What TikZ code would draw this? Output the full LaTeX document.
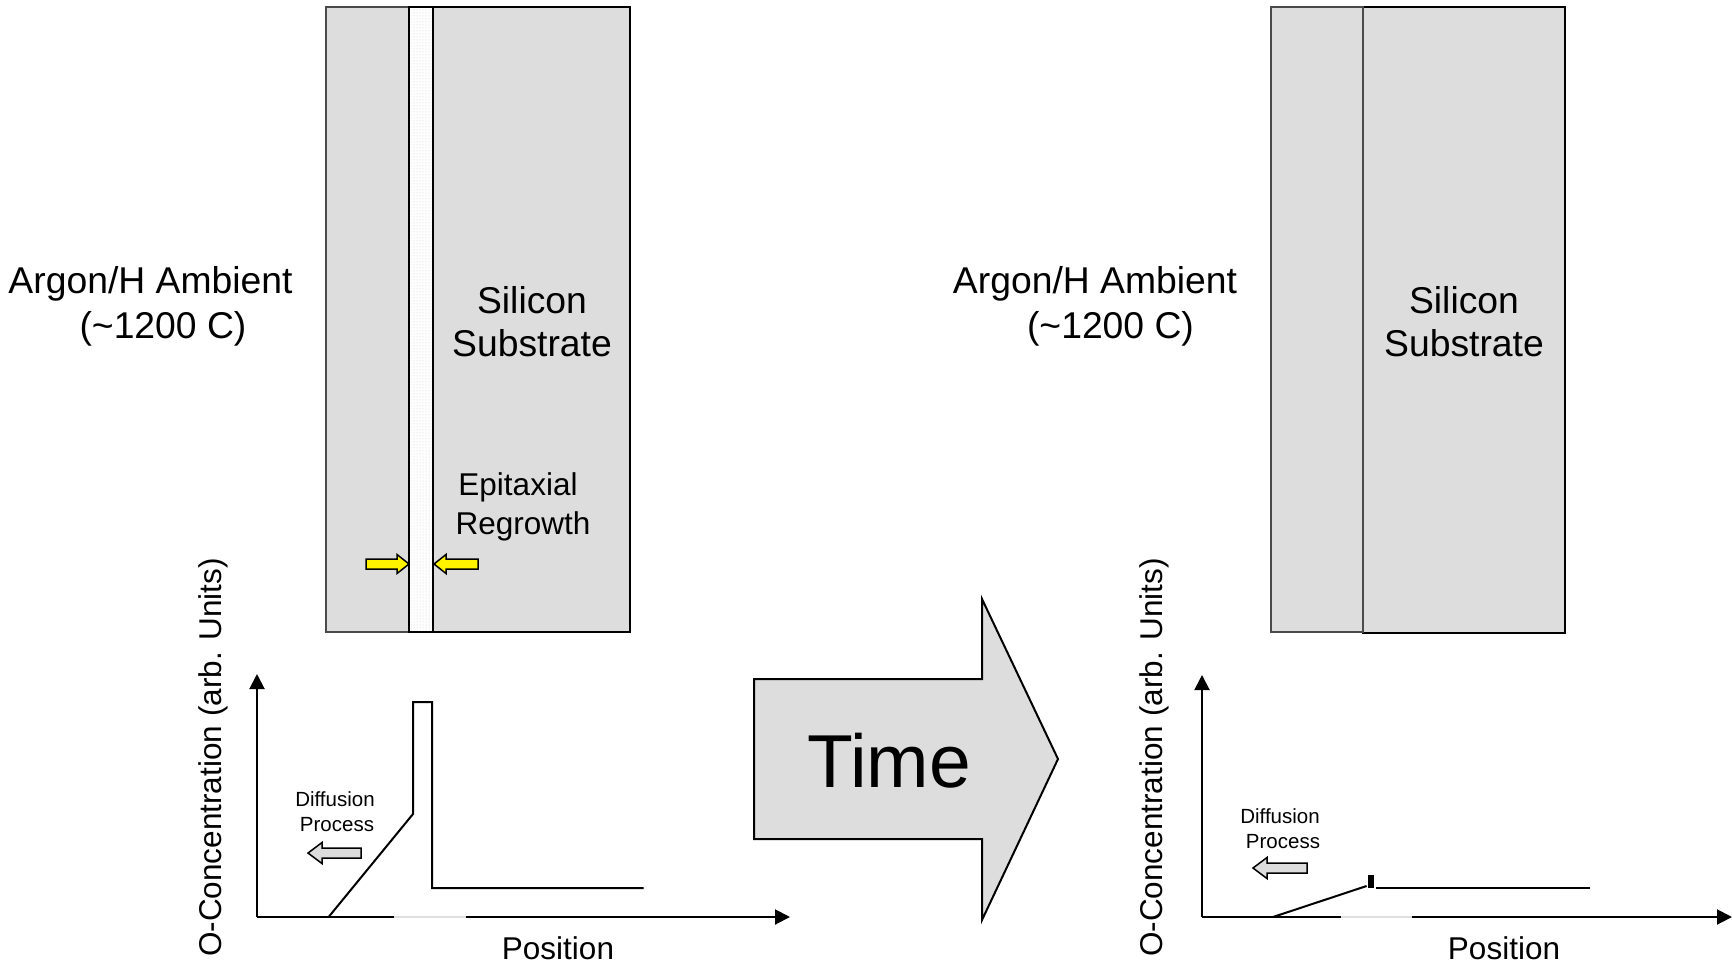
\documentclass[tikz,border=0pt]{standalone}
\usepackage{fontspec}
\setmainfont{Liberation Sans}
\usetikzlibrary{arrows.meta,patterns}
\definecolor{si}{HTML}{DDDDDD}
\definecolor{edgegray}{HTML}{4A4A4A}
\begin{document}
\begin{tikzpicture}[x=1pt,y=-1pt,
  bigtxt/.style={font=\fontsize{37.3}{46}\selectfont, inner sep=0pt, anchor=base},
  midtxt/.style={font=\fontsize{31.5}{38}\selectfont, inner sep=0pt, anchor=base},
  smalltxt/.style={font=\fontsize{20.5}{25}\selectfont, inner sep=0pt, anchor=base},
  timetxt/.style={font=\fontsize{75}{80}\selectfont, inner sep=0pt, anchor=base},
  axisline/.style={line width=2pt, -{Triangle[length=15pt,width=15pt]}},
  profile/.style={line width=2pt, line join=miter},
  gapline/.style={line width=2pt, draw=gray!25},
  layergray/.style={fill=si, draw=edgegray, line width=1.5pt},
  layerblack/.style={fill=si, draw=black, line width=2pt},
  striplayer/.style={fill=white, draw=black, line width=2pt},
  yellowarrow/.style={fill=yellow, draw=black, line width=1.5pt, line join=miter},
  grayarrow/.style={fill=si, draw=black, line width=1.5pt, line join=miter},
  timearrow/.style={fill=si, draw=black, line width=2pt, line join=miter}
]
\useasboundingbox (0,0) rectangle (1732,964);

% ===== Left panel: layers =====
\draw[layergray] (326,7) rectangle (409,632);
\draw[layerblack] (433,7) rectangle (630,632);
\draw[striplayer] (409,7) rectangle (433,632);
\fill[pattern=dots, pattern color=gray!40] (411,9) rectangle (431,630);
\draw[striplayer, fill=none] (409,7) rectangle (433,632);

% yellow arrows
\draw[yellowarrow] (366,559) -- (397,559) -- (397,554.5) -- (409,564) -- (397,573.5) -- (397,569) -- (366,569) -- cycle;
\draw[yellowarrow] (478,559) -- (446,559) -- (446,554.5) -- (434,564) -- (446,573.5) -- (446,569) -- (478,569) -- cycle;

% texts left
\node[bigtxt] (amb1a) at (150.5,293) {Argon/H Ambient};
\node[bigtxt] (amb1b) at (163,338.5) {(\textasciitilde1200 C)};
\node[bigtxt] (si1a) at (532,313) {Silicon};
\node[bigtxt] (si1b) at (532,356.5) {Substrate};
\node[midtxt] (epi1) at (518,495) {Epitaxial};
\node[midtxt] (epi2) at (523,534.5) {Regrowth};

% ===== Left graph =====
\coordinate (o1) at (257,917);
\coordinate (y1) at (257,674);
\coordinate (x1) at (790,917);
\draw[axisline] (o1) -- (y1);
\draw[axisline] (o1) -- (x1);
\coordinate (g1a) at (394,917);
\coordinate (g1b) at (466,917);
\draw[gapline] (g1a) -- (g1b);
\coordinate (p1a) at (328.6,917);
\coordinate (p1b) at (413,814);
\coordinate (p1c) at (413,702);
\coordinate (p1d) at (432,702);
\coordinate (p1e) at (432,888);
\coordinate (p1f) at (643.6,888);
\draw[profile] (p1a) -- (p1b) -- (p1c) -- (p1d) -- (p1e) -- (p1f);
\draw[grayarrow] (361,848) -- (322,848) -- (322,842.5) -- (308,853) -- (322,863.5) -- (322,858) -- (361,858) -- cycle;
\node[smalltxt] (dif1a) at (335,806) {Diffusion};
\node[smalltxt] (dif1b) at (337,831.7) {Process};
\node[midtxt] (pos1) at (558,959) {Position};
\node[midtxt, rotate=90] (yl1) at (221,757.5) {O-Concentration (arb. Units)};

% ===== Time arrow =====
\draw[timearrow] (754,679) -- (982,679) -- (982,599) -- (1058,759) -- (982,920) -- (982,839) -- (754,839) -- cycle;
\node[timetxt] (time) at (889,787) {Time};

% ===== Right panel: layers =====
\draw[layerblack] (1363,7) rectangle (1565,633);
\draw[layergray] (1271,7) rectangle (1363,632);

\node[bigtxt] (amb2a) at (1095,293) {Argon/H Ambient};
\node[bigtxt] (amb2b) at (1110.5,338.5) {(\textasciitilde1200 C)};
\node[bigtxt] (si2a) at (1464,313) {Silicon};
\node[bigtxt] (si2b) at (1464,356.5) {Substrate};

% ===== Right graph =====
\coordinate (o2) at (1202,917);
\coordinate (y2) at (1202,675);
\coordinate (x2) at (1732,917);
\draw[axisline] (o2) -- (y2);
\draw[axisline] (o2) -- (x2);
\coordinate (g2a) at (1341,917);
\coordinate (g2b) at (1412,917);
\draw[gapline] (g2a) -- (g2b);
\coordinate (p2a) at (1273,917);
\coordinate (p2b) at (1366.6,886);
\draw[profile] (p2a) -- (p2b);
\fill (1368,875) rectangle (1374,888);
\coordinate (p2c) at (1376,888);
\coordinate (p2d) at (1589.5,888);
\draw[profile] (p2c) -- (p2d);
\draw[grayarrow] (1307,863) -- (1267,863) -- (1267,857.5) -- (1253,868) -- (1267,878.5) -- (1267,873) -- (1307,873) -- cycle;
\node[smalltxt] (dif2a) at (1280,823) {Diffusion};
\node[smalltxt] (dif2b) at (1283,848) {Process};
\node[midtxt] (pos2) at (1504,959) {Position};
\node[midtxt, rotate=90] (yl2) at (1162,757.5) {O-Concentration (arb. Units)};
\end{tikzpicture}
\end{document}
